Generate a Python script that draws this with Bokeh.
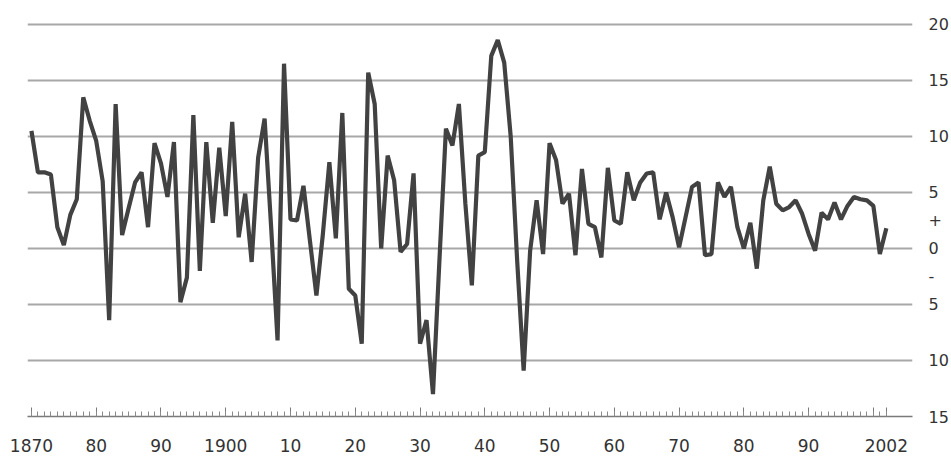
from bokeh.plotting import figure
from bokeh.models import Range1d, FixedTicker, LinearAxis
from bokeh.embed import file_html
from bokeh.resources import INLINE

years = list(range(1870, 2003))
values = [
    10.5, 6.8, 6.8, 6.6, 1.9, 0.3, 3.0, 4.4, 13.5, 11.4,   # 1870-1879
    9.6, 6.0, -6.4, 12.9, 1.2, 3.6, 5.9, 6.8, 1.9, 9.4,     # 1880-1889
    7.6, 4.6, 9.5, -4.8, -2.6, 11.9, -2.0, 9.5, 2.3, 9.0,   # 1890-1899
    2.9, 11.3, 1.0, 4.9, -1.2, 8.1, 11.6, 2.0, -8.2, 16.5,  # 1900-1909
    2.6, 2.5, 5.6, 0.7, -4.2, 1.3, 7.7, 0.9, 12.1, -3.6,    # 1910-1919
    -4.2, -8.5, 15.7, 12.9, 0.0, 8.3, 6.1, -0.3, 0.4, 6.7,  # 1920-1929
    -8.5, -6.4, -13.0, -1.0, 10.7, 9.2, 12.9, 4.0, -3.3, 8.3,  # 1930-1939
    8.6, 17.2, 18.6, 16.6, 10.0, -1.1, -10.9, -0.2, 4.3, -0.5,  # 1940-1949
    9.4, 7.9, 4.0, 4.9, -0.6, 7.1, 2.2, 1.9, -0.8, 7.2,     # 1950-1959
    2.5, 2.2, 6.8, 4.3, 5.9, 6.7, 6.8, 2.6, 5.0, 2.8,       # 1960-1969
    0.1, 2.8, 5.5, 5.9, -0.6, -0.5, 5.9, 4.6, 5.5, 1.9,     # 1970-1979
    0.0, 2.3, -1.8, 4.3, 7.3, 4.0, 3.4, 3.7, 4.3, 3.1,      # 1980-1989
    1.3, -0.2, 3.2, 2.6, 4.1, 2.6, 3.8, 4.6, 4.4, 4.3,      # 1990-1999
    3.8, -0.5, 1.8,                                          # 2000-2002
]

x_major = [1870, 1880, 1890, 1900, 1910, 1920, 1930, 1940, 1950, 1960,
           1970, 1980, 1990, 2000, 2002]
x_labels = {1870: "1870", 1880: "80", 1890: "90", 1900: "1900", 1910: "10",
            1920: "20", 1930: "30", 1940: "40", 1950: "50", 1960: "60",
            1970: "70", 1980: "80", 1990: "90", 2000: "", 2002: "2002"}
grid_values = [-10, -5, 0, 5, 10, 15, 20]
y_ticks = [-15, -10, -5, -2.5, 0, 2.5, 5, 10, 15, 20]
y_labels = {-15: "15", -10: "10", -5: "5", -2.5: "-", 0: "0", 2.5: "+",
            5: "5", 10: "10", 15: "15", 20: "20"}

FONT = "DejaVu Sans"

p = figure(width=951, height=458, output_backend="svg", toolbar_location=None,
           x_range=Range1d(1869.39, 2006.04), y_range=Range1d(-15, 21.07),
           min_border_left=27, min_border_right=33, min_border_top=12,
           min_border_bottom=42, y_axis_location=None)
p.outline_line_color = None
p.background_fill_color = "white"
p.border_fill_color = "white"

# bottom axis
xa = p.xaxis[0]
xa.ticker = FixedTicker(ticks=x_major, minor_ticks=years)
xa.major_label_overrides = {k: v for k, v in x_labels.items()}
xa.major_tick_in = 9
xa.major_tick_out = 0
xa.minor_tick_in = 5
xa.minor_tick_out = 0
xa.axis_line_color = "#7a7a7a"
xa.axis_line_width = 1.5
xa.major_tick_line_color = "#7a7a7a"
xa.minor_tick_line_color = "#8a8a8a"
xa.major_label_text_font = FONT
xa.major_label_text_font_size = "17px"
xa.major_label_text_color = "#333333"
xa.major_label_standoff = 22

# right axis with labels
ra = LinearAxis(ticker=FixedTicker(ticks=y_ticks))
ra.major_label_overrides = {k: v for k, v in y_labels.items()}
ra.axis_line_color = None
ra.major_tick_line_color = None
ra.minor_tick_line_color = None
ra.major_label_text_font = FONT
ra.major_label_text_font_size = "16px"
ra.major_label_text_color = "#333333"
ra.major_label_standoff = 10
p.add_layout(ra, "right")

p.xgrid.visible = False
p.ygrid.ticker = FixedTicker(ticks=grid_values)
p.ygrid.grid_line_color = "#a8a8a8"
p.ygrid.grid_line_width = 2

p.line(years, values, line_color="#424242", line_width=4.2)

open("out.html", "w").write(file_html(p, INLINE))
